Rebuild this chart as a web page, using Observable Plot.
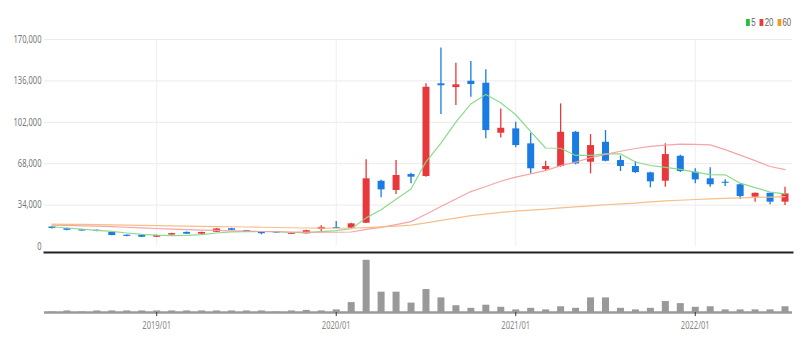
<!DOCTYPE html>
<html><head><meta charset="utf-8">
<script src="https://cdn.jsdelivr.net/npm/d3@7"></script>
<script src="https://cdn.jsdelivr.net/npm/@observablehq/plot@0.6"></script>
<style>
html,body{margin:0;background:#fff;overflow:hidden;}
#wrap{position:relative;width:808px;height:351px;font-family:"Liberation Sans","DejaVu Sans",sans-serif;}
#legend{position:absolute;top:16px;right:17px;font-size:10.5px;color:#666;display:flex;align-items:center;transform:scaleX(0.75);transform-origin:right center;}
#legend span.it{display:inline-flex;align-items:center;margin-left:5px;}
#legend i{display:inline-block;width:5px;height:7px;margin-right:2px;}
svg{display:block;overflow:visible;}
</style></head><body>
<div id="wrap"><div id="legend"></div><div id="price"></div><div id="vol"></div></div>
<script>
const months = ["2018/06","2018/07","2018/08","2018/09","2018/10","2018/11","2018/12",
"2019/01","2019/02","2019/03","2019/04","2019/05","2019/06","2019/07","2019/08","2019/09","2019/10","2019/11","2019/12",
"2020/01","2020/02","2020/03","2020/04","2020/05","2020/06","2020/07","2020/08","2020/09","2020/10","2020/11","2020/12",
"2021/01","2021/02","2021/03","2021/04","2021/05","2021/06","2021/07","2021/08","2021/09","2021/10","2021/11","2021/12",
"2022/01","2022/02","2022/03","2022/04","2022/05","2022/06","2022/07"];
const open  = [16000,14600,13600,13300,11500,9300,9200,7600,9400,11600,10100,11700,14600,13000,11900,11900,10000,10400,14000,
15500,15000,19100,53600,46000,59100,57500,133600,130500,135700,134100,93000,96600,84300,63200,65700,93800,69200,85600,70600,
65700,60500,53600,74100,61000,55600,52800,50700,40500,43700,36400];
const close = [14800,13300,12700,12400,9000,8300,7600,9000,10600,10100,11500,14400,13300,11800,10500,11000,10800,13000,15700,
14800,18600,55600,46500,58300,56900,130800,132000,132800,133000,95200,97100,82900,63800,65700,93800,67900,82900,70000,65700,
60700,53100,75500,61600,54700,50700,51900,41000,43700,36400,43200];
const high  = [16500,14900,13900,13600,11800,9500,9400,9300,10900,11900,11800,14800,14900,13200,12000,12100,11000,13300,17000,
20500,19000,71200,54500,70600,60200,133600,163100,150500,151900,145100,113000,102000,93000,70000,117100,94500,91900,95200,74400,
69800,61000,84300,75000,63800,64600,54800,51500,43900,44000,48700];
const low   = [14300,13000,12500,12200,8800,8100,7300,7300,9200,9900,9900,11500,13100,11600,9600,10800,9800,10200,12300,
14500,14800,18800,40000,42700,51500,56900,108400,115800,122600,88400,89200,81000,59700,61600,65000,67100,59700,69500,61600,
60000,48200,48700,60800,51500,48700,49300,38800,36400,34200,33600];
const ma5   = [16200,15200,14200,13200,12400,11100,10000,9300,8900,9100,9800,11100,12000,12200,12300,12200,11500,11400,12200,
13100,14600,23500,30200,38800,47200,69600,84900,102200,117100,124800,118000,108200,94400,80900,80700,74800,74800,76100,76100,
69400,66500,65000,63300,61100,59100,58900,52000,48400,44700,43200];
const ma20  = [17600,17300,17000,16700,16300,15800,15300,14800,14300,13900,13500,13200,12900,12600,12300,12100,11900,11800,11700,
11700,11900,14000,15700,18000,20400,26500,32800,39000,45100,49300,53600,57000,59600,62300,66400,69300,72900,75700,78200,
80500,82200,83200,84000,83800,83500,79600,75000,70500,65700,63100];
const ma60  = [18300,18200,18100,18000,17800,17600,17400,17200,17000,16800,16600,16400,16200,16000,15800,15600,15400,15200,15100,
15000,15000,15500,16100,16800,17500,19400,21400,23300,25300,26600,28000,29100,29900,30700,31800,32500,33400,34300,35000,
35700,36600,37400,38000,38600,39100,39600,39900,40300,40600,41000];
const volume = [1,3,1,3,3,3,3,3,3,3,3,3,3,3,3,1,3,4,3,5,19,100,39,39,18,44,28,13,8,14,10,5,8,5,11,8,28,28,8,5,8,21,17,10,11,5,5,5,5,11];
const yTicks = [0,34000,68000,102000,136000,170000];
const maNames = ["5","20","60"];
const maColors = ["#22c03a","#e8393b","#f39a24"];
const lineColors = ["#86d886","#f3a0a0","#f7bb85"];
const UP = "#e8383c", DOWN = "#1a7be3";

const candles = months.map((m,i)=>({i, m, open:open[i], close:close[i], high:high[i], low:low[i],
  c: close[i] >= open[i] ? UP : DOWN}));
const maRows = [ma5, ma20, ma60].flatMap((arr,k)=>arr.map((v,i)=>({i, v, s:maNames[k]})));
const volRows = volume.map((v,i)=>({i, v}));
const yearTicks = months.map((m,i)=>i).filter(i=>months[i].endsWith("/01"));
const xDomain = [-0.5, months.length - 0.5];
const fmt = d3.format(",");

const price = Plot.plot({
  width:808, height:251, marginLeft:44, marginRight:16, marginTop:39, marginBottom:5,
  style:{background:"#fff"},
  x:{type:"linear", domain:xDomain, axis:null, label:null},
  y:{domain:[0,170000], axis:null, label:null},
  color:{domain:maNames, range:lineColors},
  marks:[
    Plot.gridY(yTicks.filter(d=>d>0),{stroke:"#ebebeb", strokeOpacity:1}),
    Plot.gridX(yearTicks,{stroke:"#efefef", strokeOpacity:1}),
    Plot.axisY(yTicks,{tickSize:0, tickPadding:3, tickFormat:fmt, fill:"#777", fontSize:10.5, label:null}),
    Plot.ruleX(candles,{x:"i", y1:"low", y2:"high", stroke:"c", strokeWidth:1.3}),
    Plot.ruleX(candles,{x:"i", y1:"open", y2:"close", stroke:"c", strokeWidth:7}),
    Plot.line(maRows,{x:"i", y:"v", z:"s", stroke:"s", strokeWidth:1.2, strokeOpacity:0.95})
  ]
});
document.getElementById("price").appendChild(price);

const vol = Plot.plot({
  width:808, height:100, marginLeft:44, marginRight:16, marginTop:1, marginBottom:39,
  style:{background:"#fff"},
  x:{type:"linear", domain:xDomain, axis:null, label:null},
  y:{domain:[0,115], axis:null, label:null},
  marks:[
    Plot.frame({anchor:"top", stroke:"#222", strokeWidth:2}),
    Plot.ruleY([0],{stroke:"#9a9a9a", strokeWidth:2.5}),
    Plot.ruleX(volRows,{x:"i", y1:0, y2:"v", stroke:"#999", strokeWidth:7}),
    Plot.axisX(yearTicks,{tickSize:4, tickPadding:5, tickFormat:i=>months[i], stroke:"#333", fill:"#888", fontSize:10.5, label:null})
  ]
});
document.getElementById("vol").appendChild(vol);

// condense axis text horizontally, like the narrow font of the original
document.querySelectorAll("#wrap svg text").forEach(t=>{
  const len = t.getComputedTextLength();
  if (len > 0) { t.setAttribute("textLength", (len*0.72).toFixed(1)); t.setAttribute("lengthAdjust","spacingAndGlyphs"); }
});

const lg = document.getElementById("legend");
maNames.forEach((n,k)=>{
  const s = document.createElement("span"); s.className="it";
  s.innerHTML = `<i style="background:${maColors[k]}"></i>${n}`;
  lg.appendChild(s);
});
</script>
</body></html>
